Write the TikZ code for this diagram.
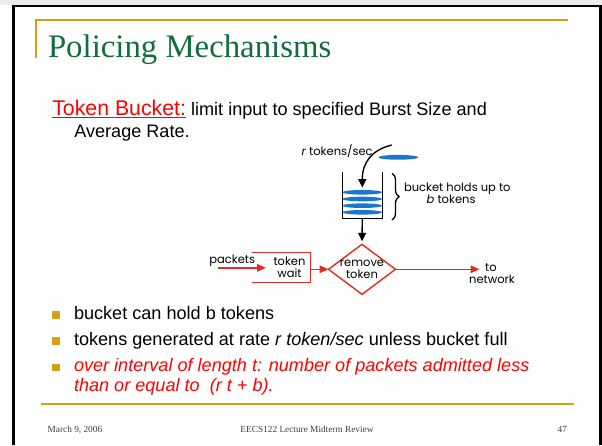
\documentclass[tikz,border=0pt]{standalone}
\usepackage{fontspec}
\setmainfont{Liberation Sans}
\newfontfamily\titlefont{Liberation Serif}
\newfontfamily\figfont{Poppins}
\usetikzlibrary{arrows.meta,shapes.geometric,decorations.pathreplacing}
\definecolor{titlegreen}{RGB}{18,108,60}
\definecolor{gold}{RGB}{214,160,20}
\definecolor{figred}{RGB}{226,44,34}
\definecolor{tokblue}{RGB}{28,118,208}
\definecolor{footgray}{RGB}{64,64,64}
\definecolor{stripgray}{RGB}{236,236,236}
\newcommand{\figsize}{\fontsize{11.5}{11.6}\selectfont}
\newcommand{\bodysize}{\fontsize{18.1}{21}\selectfont}
\begin{document}
\begin{tikzpicture}[x=1pt,y=-1pt,
  txt/.style={inner sep=0pt,outer sep=0pt,anchor=base west},
  lbl/.style={inner sep=0pt,outer sep=0pt,font=\figfont\figsize},
  foot/.style={inner sep=0pt,outer sep=0pt,text=footgray,font=\titlefont\fontsize{9.3}{11}\selectfont},
  redline/.style={draw=figred,line width=1.4pt},
  redarrow/.style={redline,-{Triangle[length=9pt,width=7.5pt]}},
  blkarrow/.style={line width=1.4pt,-{Triangle[length=8.5pt,width=8pt]}},
  tokenshape/.style={fill=tokblue},
  bulletbox/.style={fill=gold},
  goldrule/.style={draw=gold,line width=1.4pt}]

\useasboundingbox (0,0) rectangle (602,445);
\fill[white] (0,0) rectangle (602,445);
\fill[stripgray] (0,0) rectangle (602,4.5);

% slide frame
\draw[line width=2.6pt] (13.5,445) -- (13.5,6) -- (600.5,6) -- (600.5,445);

% title rules and title
\draw[goldrule,line width=1.2pt] (36,58) -- (36,20) -- (568,20);
\node[txt,text=titlegreen,font=\titlefont\fontsize{32.8}{36}\selectfont] (title) at (48,57) {Policing Mechanisms};

% introduction line
\node[txt,text=red,font=\fontsize{21.3}{24}\selectfont] (tb) at (52.3,115) {Token Bucket:};
\draw[red,line width=1.3pt] ([yshift=-2.7pt]tb.base west) -- ([yshift=-2.7pt]tb.base east);
\node[txt,font=\bodysize,xshift=5pt] (intro) at (tb.base east) {limit input to specified Burst Size and};
\node[txt,font=\bodysize] (intro2) at (74.3,137.3) {Average Rate.};

% token source and bucket
\node[lbl,anchor=base east] (rate) at (372.7,155.7) {\textit{r} tokens/sec};
\fill[tokenshape] (398.3,157.3) ellipse [x radius=20pt,y radius=2.4pt];
\coordinate (fallstart) at (391.7,145);
\coordinate (fallend) at (362.3,187.5);
\draw[blkarrow] (fallstart) .. controls (372,150) and (362.3,162) .. (fallend);

\foreach \ty in {192.3,199,205.7,212.3}
  \fill[tokenshape] (362.3,\ty) ellipse [x radius=20pt,y radius=2.3pt];
\draw[line width=1.3pt] (342.3,172.3) -- (342.3,218.3) -- (382.3,218.3) -- (382.3,172.3);
\coordinate (bucketout) at (362.3,218.3);

\draw[line width=1.3pt,decorate,decoration={brace,amplitude=7pt}] (392,173.3) -- (392,220);
\node[lbl,anchor=base west] (holds) at (404,191.7) {bucket holds up to};
\node[lbl,anchor=base west] (holds2) at (426.7,203.3) {\textit{b} tokens};

% packet path
\node[lbl,shape=diamond,draw=figred,line width=1.4pt,inner sep=-4pt,minimum width=67pt,minimum height=50pt,align=center] (rm) at (362,269.3) {remove\\token};
\draw[blkarrow,shorten >=3pt] (bucketout) -- (rm.north);

\node[lbl,align=center] (tw) at (289.5,267.5) {token\\wait};
\draw[redline] (251.7,252.3) -- (310.5,252.3) -- (310.5,282.7) -- (251.7,282.7);
\coordinate (twout) at (310.5,269.3);
\draw[redarrow] (twout) -- (rm.west);

\node[lbl,anchor=base west] (pk) at (209.3,263.3) {packets};
\coordinate (pkin) at (218.3,267.8);
\coordinate (pkend) at (266,267.8);
\draw[redarrow] (pkin) -- (pkend);

\node[lbl,anchor=base] (net1) at (491,271.7) {to};
\node[lbl,anchor=base] (net2) at (492,283.3) {network};
\coordinate (netin) at (479.5,269.3);
\draw[redarrow] (rm.east) -- (netin);

% bullet list
\foreach \by in {315,340.7,367.3}
  \fill[bulletbox] (52.2,\by-3.8) rectangle (59.8,\by+3.8);
\node[txt,font=\bodysize] (b1) at (74,319) {bucket can hold b tokens};
\node[txt,font=\bodysize] (b2) at (74,345) {tokens generated at rate \textit{r token/sec} unless bucket full};
\node[txt,font=\bodysize\itshape,text=red] (b3) at (74,371.7) {over interval of length t: number of packets admitted less};
\node[txt,font=\bodysize\itshape,text=red] (b4) at (74,391.7) {than or equal to \ (r t + b).};

% footer
\draw[goldrule] (41,404) -- (574,404);
\node[foot,anchor=base west] (date) at (47.7,432) {March 9, 2006};
\node[foot,anchor=base] (course) at (307,432) {EECS122 Lecture Midterm Review};
\node[foot,anchor=base east] (page) at (567,432) {47};
\end{tikzpicture}
\end{document}
